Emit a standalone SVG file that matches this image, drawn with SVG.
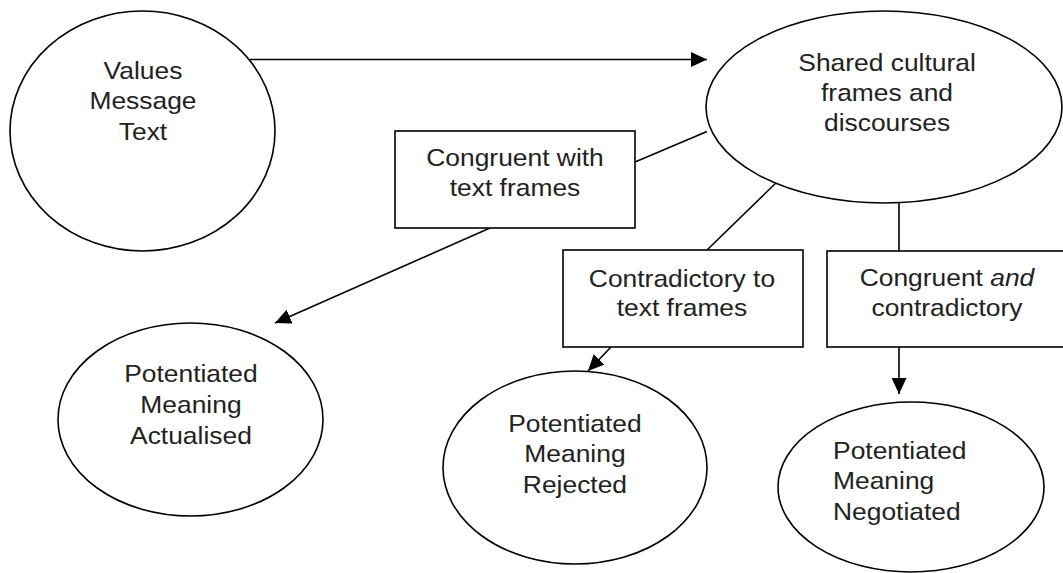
<svg xmlns="http://www.w3.org/2000/svg" width="1063" height="573" viewBox="0 0 1063 573">
<style>
.shape{fill:#fff;stroke:#000;stroke-width:1.6}
.conn{fill:none;stroke:#000;stroke-width:1.6}
.t{font-family:"Liberation Sans",Arial,sans-serif;font-size:24px;fill:#222;text-anchor:middle}
.l{text-anchor:start}
</style>
<defs>
<marker id="arr" markerUnits="userSpaceOnUse" markerWidth="16" markerHeight="15" refX="16" refY="7.5" orient="auto" viewBox="0 0 16 15">
<path d="M0,0 L16,7.5 L0,15 z" fill="#000"/>
</marker>
</defs>
<rect width="1063" height="573" fill="#fff"/>
<g id="connectors">
<line class="conn" x1="250" y1="59.5" x2="707" y2="59.5" marker-end="url(#arr)"/>
<line class="conn" x1="635" y1="162" x2="707" y2="131.5"/>
<line class="conn" x1="490" y1="228" x2="275" y2="323" marker-end="url(#arr)"/>
<line class="conn" x1="780" y1="179" x2="707" y2="250"/>
<line class="conn" x1="611" y1="347" x2="588" y2="371" marker-end="url(#arr)"/>
<line class="conn" x1="899" y1="203" x2="899" y2="251"/>
<line class="conn" x1="899" y1="347" x2="899" y2="394" marker-end="url(#arr)"/>
</g>
<g id="values">
<ellipse class="shape" cx="142.5" cy="131" rx="132.5" ry="120"/>
<g transform="scale(1.1 1)"><text class="t" x="130"><tspan x="130" y="79">Values</tspan><tspan x="130" y="109.5">Message</tspan><tspan x="130" y="140">Text</tspan></text></g>
</g>
<g id="shared">
<ellipse class="shape" cx="884" cy="107" rx="178" ry="96"/>
<g transform="scale(1.1 1)"><text class="t"><tspan x="806.4" y="71">Shared cultural</tspan><tspan x="806.4" y="101">frames and</tspan><tspan x="806.4" y="131.5">discourses</tspan></text></g>
</g>
<g id="congruent">
<rect class="shape" x="395" y="131" width="240" height="97"/>
<g transform="scale(1.1 1)"><text class="t"><tspan x="468.2" y="166">Congruent with</tspan><tspan x="468.2" y="196">text frames</tspan></text></g>
</g>
<g id="contradictory">
<rect class="shape" x="563" y="250" width="240" height="97"/>
<g transform="scale(1.1 1)"><text class="t"><tspan x="620" y="287">Contradictory to</tspan><tspan x="620" y="316.5">text frames</tspan></text></g>
</g>
<g id="both">
<rect class="shape" x="827" y="251" width="240" height="96"/>
<g transform="scale(1.1 1)"><text class="t"><tspan x="860.9" y="286">Congruent <tspan font-style="italic">and</tspan></tspan><tspan x="860.9" y="316">contradictory</tspan></text></g>
</g>
<g id="actualised">
<ellipse class="shape" cx="190.5" cy="419.5" rx="132.5" ry="96.5"/>
<g transform="scale(1.1 1)"><text class="t"><tspan x="173.6" y="382.5">Potentiated</tspan><tspan x="173.6" y="413.5">Meaning</tspan><tspan x="173.6" y="444.5">Actualised</tspan></text></g>
</g>
<g id="rejected">
<ellipse class="shape" cx="575" cy="467.5" rx="132" ry="96.5"/>
<g transform="scale(1.1 1)"><text class="t"><tspan x="522.7" y="432">Potentiated</tspan><tspan x="522.7" y="462.5">Meaning</tspan><tspan x="522.7" y="493">Rejected</tspan></text></g>
</g>
<g id="negotiated">
<ellipse class="shape" cx="911" cy="487" rx="133" ry="85"/>
<g transform="scale(1.1 1)"><text class="t l"><tspan x="757.3" y="459">Potentiated</tspan><tspan x="757.3" y="489.5">Meaning</tspan><tspan x="757.3" y="520">Negotiated</tspan></text></g>
</g>
</svg>
